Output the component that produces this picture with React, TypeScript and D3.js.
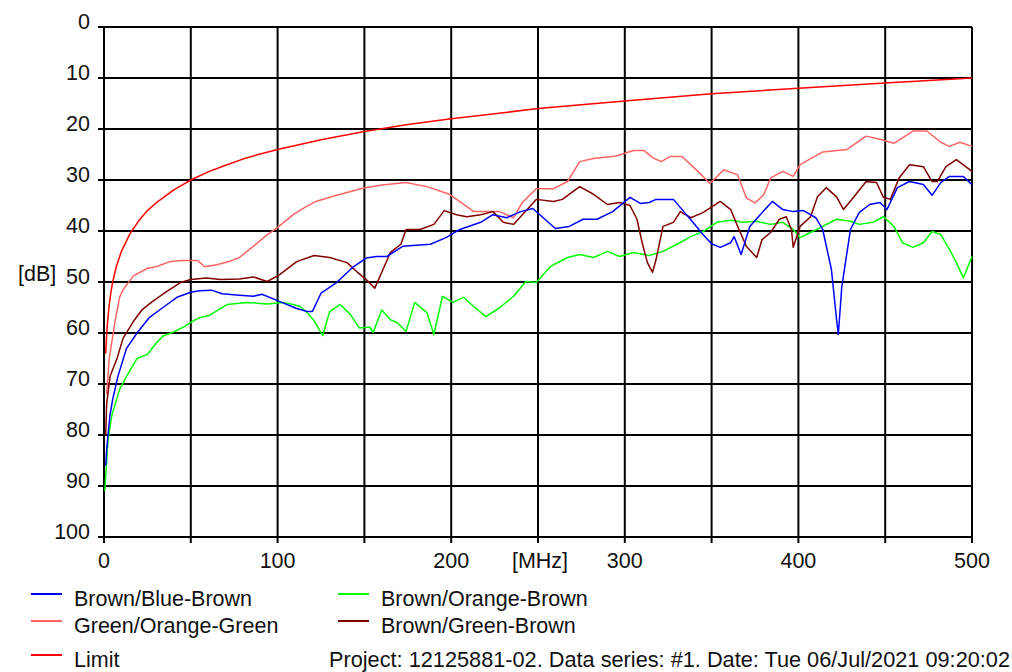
import { useEffect } from 'react';
import * as d3 from 'd3';

type Pt = [number, number];

// frequency [MHz], attenuation [dB]
const limit: Pt[] = [
  [1, 64], [1.5, 60.5], [2, 58], [3, 54.5], [4, 52], [5, 50], [7, 47.1], [10, 44], [15, 40.5],
  [20, 38], [25, 36], [30, 34.5], [40, 32], [50, 30], [60, 28.4], [70, 27.1], [80, 25.9],
  [90, 24.9], [100, 24], [125, 22.1], [150, 20.5], [175, 19.1], [200, 18], [250, 16],
  [300, 14.5], [350, 13.1], [400, 12], [450, 11], [500, 10],
];

const blueBrown: Pt[] = [
  [1, 86], [1.5, 83], [2.3, 80], [3.5, 76], [5, 73], [8, 68.5], [13, 63], [19, 60], [26, 57],
  [34, 55], [42, 53], [50, 52], [55, 51.7], [62, 51.6], [68, 52.3], [78, 52.6], [86, 52.8],
  [91, 52.4], [101, 53.8], [111, 55.2], [117, 55.8], [120, 55.8], [125, 52.2], [134, 50.1],
  [143, 47.2], [151, 45.3], [157, 45], [163, 45], [172, 43], [188, 42.6], [197, 41.3],
  [205, 39.7], [217, 38.3], [224, 36.8], [232, 37.4], [240, 36.2], [247, 35.6], [253, 37.4],
  [260, 39.5], [268, 39.1], [276, 37.7], [284, 37.7], [293, 36.2], [303, 33.4], [309, 34.6],
  [314, 34.4], [318, 33.8], [328, 33.8], [334, 36.2], [339, 38.2], [345, 40.7], [350, 42.5],
  [355, 43.2], [361, 42.3], [363, 41.1], [367, 44.6], [372, 39.1], [378, 36.8], [385, 34.2],
  [391, 35.8], [397, 36.2], [403, 36], [410, 37.4], [414, 39.7], [419, 47.5], [422, 57.4],
  [423, 60.3], [425, 50.9], [430, 39.7], [435, 36.4], [441, 34.8], [447, 34.4], [451, 35.8],
  [457, 31.5], [464, 30.3], [472, 30.9], [477, 33], [482, 30.5], [487, 29.3], [495, 29.3],
  [500, 30.9],
];

const orangeGreen: Pt[] = [
  [1.5, 72], [3, 65], [6.5, 57.5], [9, 53], [11, 51.5], [17, 48.8], [25, 47.3], [30, 47],
  [38, 46], [45, 45.8], [54, 45.8], [58, 47], [65, 46.6], [72, 46], [78, 45.2], [86, 43],
  [93, 41], [100, 39.3], [109, 36.8], [115, 35.5], [122, 34.2], [132, 33.2], [149, 31.6],
  [160, 31], [174, 30.5], [186, 31.3], [199, 32.8], [206, 34.5], [213, 36.2], [228, 36.2],
  [236, 37.4], [241, 34.4], [249, 31.7], [259, 31.7], [267, 30.3], [274, 26.4], [282, 25.8],
  [295, 25.3], [305, 24.2], [311, 24.2], [316, 25.6], [321, 26.4], [326, 25.4], [333, 25.4],
  [343, 28.6], [349, 30.7], [357, 28], [365, 29], [370, 33.5], [375, 34.5], [380, 32.9],
  [384, 29.6], [391, 28.3], [397, 29.3], [401, 27], [414, 24.5], [428, 24], [439, 21.4],
  [447, 22], [455, 22.8], [466, 20.4], [474, 20.4], [482, 22.6], [487, 23.4], [493, 22.6],
  [500, 23.4],
];

const greenBrown: Pt[] = [
  [1, 80], [1.5, 74], [3.5, 68.5], [7.5, 65], [11, 61], [17, 57.7], [22, 55.4], [28, 53.8],
  [36, 51.9], [44, 50.1], [50, 49.5], [59, 49.2], [67, 49.5], [78, 49.4], [86, 49], [94, 49.9],
  [101, 48.6], [111, 46], [121, 44.8], [130, 45.2], [140, 46.2], [146, 48.1], [151, 49.5],
  [156, 51.2], [160, 48.1], [165, 44.2], [171, 42.6], [174, 39.7], [182, 39.7], [190, 38.7],
  [196, 36], [203, 36.8], [209, 37.2], [217, 36.8], [224, 36.2], [230, 38.3], [236, 38.7],
  [241, 36.8], [249, 33.8], [259, 34.2], [264, 33.8], [274, 31.3], [282, 32.8], [290, 34.8],
  [297, 34.4], [303, 35], [307, 37.7], [310, 42.3], [313, 46.2], [316, 48.1], [318, 45.6],
  [322, 39.1], [328, 38.3], [332, 36.2], [338, 37.4], [345, 36.4], [355, 34.2], [361, 35.8],
  [365, 39.1], [370, 43], [376, 45.2], [379, 41.7], [384, 40.3], [389, 37.7], [393, 37.2],
  [396, 39.7], [397, 43.2], [401, 39.1], [407, 37.2], [411, 33.3], [416, 31.5], [422, 33.3],
  [426, 35.8], [432, 33.3], [439, 30.3], [445, 30.5], [449, 33.4], [453, 33.8], [458, 29.6],
  [464, 27], [472, 27.4], [477, 30.3], [480, 30.3], [485, 27.4], [491, 26], [500, 28.3],
];

const orangeBrown: Pt[] = [
  [0.5, 91], [1, 88], [2.3, 81], [4.6, 76], [9, 71], [13, 68.5], [19, 65], [25, 64.2],
  [30, 62], [34, 60.6], [40, 59.8], [46, 58.8], [50, 57.9], [55, 57], [61, 56.5], [71, 54.4],
  [82, 54], [94, 54.3], [103, 54], [109, 54.4], [113, 54.8], [117, 56], [121, 57.6],
  [126, 60.5], [130, 55.8], [136, 54.4], [142, 56.4], [147, 59], [153, 58.8], [155, 59.9],
  [160, 55.5], [165, 57.4], [169, 58], [174, 59.7], [179, 54], [186, 56], [190, 60.3],
  [195, 52.8], [201, 54], [207, 53], [213, 54.8], [220, 56.8], [228, 55], [236, 52.8],
  [243, 49.9], [249, 50.1], [257, 47], [267, 45.2], [274, 44.6], [282, 45.2], [290, 44],
  [297, 45], [305, 44.2], [314, 44.8], [322, 44], [330, 42.6], [338, 41.1], [345, 40.1],
  [353, 38.3], [361, 37.9], [368, 38.3], [376, 38.1], [384, 38.7], [391, 38.3], [397, 39.7],
  [401, 41.3], [407, 40.3], [414, 39.1], [422, 37.7], [430, 38.1], [435, 38.7], [443, 38.3],
  [449, 37.2], [455, 39.1], [460, 42.3], [466, 43.2], [472, 42.3], [477, 40.1], [482, 40.7],
  [487, 43.6], [491, 46.2], [495, 49.2], [500, 45],
];

const xTicks = [0, 100, 200, 300, 400, 500];
const xGrid = [50, 100, 150, 200, 250, 300, 350, 400, 450];
const yTicks = [0, 10, 20, 30, 40, 50, 60, 70, 80, 90, 100];

const series = [
  { name: 'Limit', data: limit, color: '#ff0000' },
  { name: 'Green/Orange-Green', data: orangeGreen, color: '#ff6464' },
  { name: 'Brown/Orange-Brown', data: orangeBrown, color: '#00ff00' },
  { name: 'Brown/Green-Brown', data: greenBrown, color: '#800000' },
  { name: 'Brown/Blue-Brown', data: blueBrown, color: '#0000ff' },
];

const legend = [
  { name: 'Brown/Blue-Brown', color: '#0000ff', col: 0, row: 0 },
  { name: 'Brown/Orange-Brown', color: '#00ff00', col: 1, row: 0 },
  { name: 'Green/Orange-Green', color: '#ff6464', col: 0, row: 1 },
  { name: 'Brown/Green-Brown', color: '#800000', col: 1, row: 1 },
  { name: 'Limit', color: '#ff0000', col: 0, row: 2 },
];

const footer = 'Project: 12125881-02. Data series: #1. Date: Tue 06/Jul/2021 09:20:02';

export default function App() {
  useEffect(() => {
    document.body.style.margin = '0';
  }, []);

  const W = 1012;
  const H = 672;
  const left = 104;
  const right = 972;
  const top = 27;
  const bottom = 537;

  const x = d3.scaleLinear().domain([0, 500]).range([left, right]);
  const y = d3.scaleLinear().domain([0, 100]).range([top, bottom]);
  const line = d3
    .line<Pt>()
    .x((d) => x(d[0]))
    .y((d) => y(d[1]));

  const font = "'Liberation Sans', Arial, sans-serif";
  const legendCols = [31, 338];
  const legendRows = [599, 626, 660];

  return (
    <svg width={W} height={H} style={{ display: 'block', background: '#fff' }} fontFamily={font}>
      {/* grid */}
      <g stroke="#000" strokeWidth={2}>
        {yTicks.map((v) => (
          <line key={'h' + v} x1={left - 6} x2={right} y1={y(v)} y2={y(v)} />
        ))}
        {[0, ...xGrid, 500].map((v) => (
          <line key={'v' + v} x1={x(v)} x2={x(v)} y1={top} y2={bottom + 6} />
        ))}
      </g>
      {/* traces */}
      <g fill="none" strokeWidth={1.5} strokeLinejoin="round">
        {series.map((s) => (
          <path key={s.name} d={line(s.data) ?? ''} stroke={s.color} />
        ))}
      </g>
      {/* axis labels */}
      <g fontSize={21.5} fill="#111">
        {yTicks.map((v) => (
          <text key={'yl' + v} x={left - 14} y={y(v) + 2} textAnchor="end">
            {v}
          </text>
        ))}
        {xTicks.map((v) => (
          <text key={'xl' + v} x={x(v)} y={568} textAnchor="middle">
            {v}
          </text>
        ))}
        <text x={x(250) + 2} y={568} textAnchor="middle">
          [MHz]
        </text>
        <text x={18} y={281}>
          [dB]
        </text>
      </g>
      {/* legend */}
      <g fontSize={21.5} fill="#111">
        {legend.map((l) => (
          <g key={l.name}>
            <line
              x1={legendCols[l.col]}
              x2={legendCols[l.col] + 31}
              y1={legendRows[l.row] - 5}
              y2={legendRows[l.row] - 5}
              stroke={l.color}
              strokeWidth={2}
            />
            <text x={legendCols[l.col] + 43} y={legendRows[l.row] + 7}>
              {l.name}
            </text>
          </g>
        ))}
        <text x={329} y={legendRows[2] + 7} textLength={681} lengthAdjust="spacingAndGlyphs">
          {footer}
        </text>
      </g>
    </svg>
  );
}
